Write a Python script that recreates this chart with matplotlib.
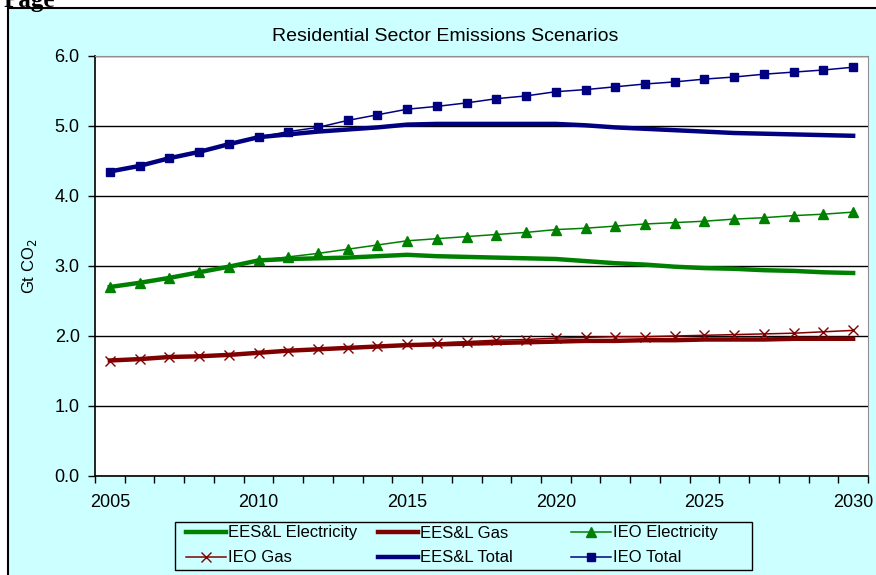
import matplotlib.pyplot as plt
from matplotlib.patches import Rectangle

years = list(range(2005, 2031))

# Gt CO2
ees_elec = [2.70, 2.76, 2.83, 2.91, 2.99, 3.08, 3.10, 3.11, 3.12, 3.14, 3.16, 3.14, 3.13,
            3.12, 3.11, 3.10, 3.07, 3.04, 3.02, 2.99, 2.97, 2.96, 2.94, 2.93, 2.91, 2.90]
ees_gas = [1.65, 1.67, 1.70, 1.71, 1.73, 1.76, 1.79, 1.81, 1.83, 1.85, 1.87, 1.88, 1.89,
           1.90, 1.91, 1.92, 1.93, 1.93, 1.94, 1.94, 1.95, 1.95, 1.95, 1.96, 1.96, 1.96]
ieo_elec = [2.70, 2.76, 2.83, 2.91, 2.99, 3.08, 3.13, 3.18, 3.24, 3.30, 3.36, 3.39, 3.42,
            3.45, 3.48, 3.52, 3.54, 3.57, 3.60, 3.62, 3.64, 3.67, 3.69, 3.72, 3.74, 3.77]
ieo_gas = [1.65, 1.67, 1.70, 1.71, 1.73, 1.76, 1.79, 1.81, 1.83, 1.86, 1.88, 1.90, 1.92,
           1.94, 1.95, 1.97, 1.98, 1.99, 1.99, 2.00, 2.01, 2.02, 2.03, 2.04, 2.06, 2.08]
ees_total = [4.35, 4.43, 4.54, 4.63, 4.74, 4.84, 4.88, 4.92, 4.95, 4.98, 5.02, 5.03, 5.03,
             5.03, 5.03, 5.03, 5.01, 4.98, 4.96, 4.94, 4.92, 4.90, 4.89, 4.88, 4.87, 4.86]
ieo_total = [4.35, 4.43, 4.54, 4.63, 4.74, 4.84, 4.92, 4.98, 5.08, 5.16, 5.24, 5.28, 5.33,
             5.39, 5.43, 5.49, 5.52, 5.56, 5.60, 5.63, 5.67, 5.70, 5.74, 5.77, 5.80, 5.84]

green = "#008000"
red = "#800000"
navy = "#000080"
cyan = "#CCFFFF"

plt.rcParams['font.family'] = ['Liberation Sans', 'DejaVu Sans']

W, H = 876.0, 575.0
fig = plt.figure(figsize=(8.76, 5.75), dpi=100, facecolor="white")
# cyan chart frame (runs off the right and bottom edges)
fig.patches.append(Rectangle((8/W, -0.05), 1.0, 1 - 8/H + 0.05, transform=fig.transFigure,
                             facecolor=cyan, edgecolor="black", linewidth=1.5, zorder=-5))
fig.text(0.004, 1.0, "Page", fontsize=18, fontweight="bold", family="Liberation Serif",
         va="center", ha="left", zorder=-4)

ax = fig.add_axes([95/W, 99/H, 773/W, 420/H])
ax.set_zorder(2)
ax.set_facecolor("white")

l1, = ax.plot(years, ees_elec, color=green, lw=3.2, zorder=3)
l2, = ax.plot(years, ees_gas, color=red, lw=3.2, zorder=3)
l3, = ax.plot(years, ieo_elec, color=green, lw=1.1, marker="^", ms=6.5, zorder=4)
l4, = ax.plot(years, ieo_gas, color=red, lw=1.1, marker="x", ms=7, mew=1.0, zorder=4)
l5, = ax.plot(years, ees_total, color=navy, lw=3.2, zorder=3)
l6, = ax.plot(years, ieo_total, color=navy, lw=1.1, marker="s", ms=6, zorder=4)

ax.set_xlim(2004.5, 2030.5)
ax.set_ylim(0, 6)
ax.set_yticks([0, 1, 2, 3, 4, 5, 6])
ax.set_yticklabels(["%.1f" % v for v in [0, 1, 2, 3, 4, 5, 6]], fontsize=13)
ax.set_xticks([2005, 2010, 2015, 2020, 2025, 2030])
ax.set_xticklabels(["2005", "2010", "2015", "2020", "2025", "2030"], fontsize=13)
ax.tick_params(axis="x", which="major", length=0, pad=13)
ax.set_xticks([y - 0.5 for y in range(2005, 2032)], minor=True)
ax.tick_params(axis="x", which="minor", length=5, direction="out", width=1)
ax.tick_params(axis="y", length=5, direction="out", width=1, pad=6)
ax.grid(axis="y", color="black", lw=1.0, zorder=1)
ax.set_axisbelow(True)
for s in ["top", "right"]:
    ax.spines[s].set_color("#909090")
for s in ["left", "bottom"]:
    ax.spines[s].set_color("black")
    ax.spines[s].set_linewidth(1.2)

ax.set_ylabel("Gt CO$_2$", fontsize=12, labelpad=11)
fig.text(445/W, 1 - 40.7/H, "Residential Sector Emissions Scenarios", fontsize=14,
         ha="center", va="baseline")

# legend: Excel lays out three equal columns, so one small legend per column
cols = [([l1, l4], ["EES&L Electricity", "IEO Gas"]),
        ([l2, l5], ["EES&L Gas", "EES&L Total"]),
        ([l3, l6], ["IEO Electricity", "IEO Total"])]
col_x = [186, 378, 571]
for (hs, ls), x0 in zip(cols, col_x):
    lg = fig.legend(hs, ls, loc="center left", bbox_to_anchor=(x0/W, 1 - 545.5/H),
                    fontsize=12, frameon=False, handlelength=2.4, handletextpad=0.1,
                    labelspacing=0.6, borderpad=0, borderaxespad=0)
fig.patches.append(Rectangle((175/W, 1 - 570/H), (752 - 175)/W, 48/H, transform=fig.transFigure,
                             facecolor="none", edgecolor="black", linewidth=1.0, zorder=3))

fig.savefig("out.png", dpi=100)
